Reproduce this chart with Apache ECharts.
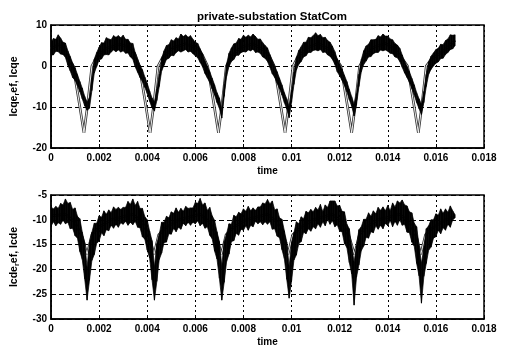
<!DOCTYPE html>
<html>
<head>
<meta charset="utf-8">
<script src="https://cdn.jsdelivr.net/npm/echarts@6/dist/echarts.min.js"></script>
<style>
  html, body { margin: 0; padding: 0; background: #fff; }
  #chart { width: 511px; height: 352px; }
</style>
</head>
<body>
<div id="chart"></div>
<script>
// sample step of the measured traces (s), first sample at t = 0
const dt = 0.0001;

// upper plot: envelope of the noisy Icqe trace
const topHi = [
  5.8, 6.7, 6.5, 7.6, 6.8, 5.8, 5.6, 3.7, 2.3, 0.7,
  -0.4, -2.1, -3.8, -5.4, -7.4, -8.8, -7.7, -2.9, 1.7, 3.3,
  4.6, 5.7, 5.6, 6.9, 6.6, 6.4, 7.4, 7.0, 7.4, 6.9,
  7.5, 6.5, 6.5, 5.6, 5.5, 3.3, 1.6, 0.2, -0.9, -2.7,
  -4.2, -6.1, -7.8, -8.8, -5.6, -2.0, 1.9, 3.7, 5.0, 5.2,
  6.4, 6.1, 6.9, 6.6, 7.8, 7.2, 7.6, 7.0, 7.4, 6.5,
  5.8, 5.5, 4.2, 3.0, 1.3, 0.0, -1.4, -3.0, -4.6, -6.5,
  -7.8, -10.4, -4.5, 0.5, 3.1, 4.4, 5.4, 5.6, 6.7, 6.5,
  7.5, 7.0, 7.5, 7.1, 7.8, 7.2, 6.5, 6.6, 5.7, 5.0,
  4.4, 2.8, 1.3, 0.0, -1.4, -3.0, -4.6, -6.5, -8.0, -9.9,
  -6.1, -1.5, 2.1, 3.8, 4.7, 5.8, 5.8, 7.0, 6.9, 7.4,
  8.1, 7.4, 7.7, 6.9, 7.0, 6.2, 5.8, 4.8, 3.5, 1.7,
  0.5, -0.8, -2.3, -3.8, -5.7, -7.5, -9.3, -6.7, -2.0, 1.6,
  3.7, 4.9, 5.3, 6.4, 6.4, 6.5, 7.4, 7.1, 7.8, 7.3,
  7.3, 6.6, 6.4, 5.5, 5.1, 4.3, 2.7, 1.2, -0.1, -1.4,
  -3.0, -4.6, -6.5, -8.0, -9.3, -6.2, -2.1, 1.0, 2.4, 3.2,
  4.0, 4.3, 5.3, 5.2, 6.2, 6.6, 7.6, 7.5, 7.6
];
const topLo = [
  2.7, 2.7, 3.6, 3.5, 2.9, 2.8, 2.1, 0.2, -1.2, -2.8,
  -3.5, -4.8, -6.3, -8.0, -9.7, -10.8, -10.3, -6.0, -1.7, -0.1,
  1.5, 1.7, 2.7, 2.8, 2.7, 3.4, 3.9, 3.5, 3.9, 3.4,
  3.7, 3.1, 3.2, 2.2, 1.7, -0.2, -1.5, -2.8, -3.8, -5.2,
  -6.7, -8.6, -10.2, -11.0, -8.4, -5.0, -1.2, 0.2, 1.6, 1.9,
  2.6, 2.5, 3.3, 3.7, 3.4, 3.7, 4.0, 3.4, 3.6, 3.0,
  2.5, 2.0, 0.9, -0.2, -1.8, -2.9, -4.0, -5.6, -7.1, -8.9,
  -10.3, -12.7, -7.4, -2.5, -0.1, 1.1, 1.6, 2.6, 2.6, 3.3,
  3.5, 3.4, 3.9, 3.7, 4.1, 3.3, 3.4, 3.1, 2.2, 1.9,
  1.1, -0.3, -1.9, -2.8, -4.2, -5.5, -7.1, -8.9, -10.5, -12.6,
  -8.9, -4.5, -1.0, 0.4, 1.1, 2.2, 2.5, 3.3, 3.3, 3.8,
  3.9, 3.7, 4.0, 3.3, 3.4, 2.7, 2.4, 1.6, 0.4, -1.4,
  -2.4, -3.5, -4.8, -6.3, -8.2, -9.8, -12.2, -9.5, -5.0, -1.4,
  0.4, 1.2, 2.2, 2.3, 3.0, 3.3, 3.3, 3.9, 3.7, 3.9,
  3.6, 3.1, 3.0, 2.2, 2.0, 1.1, -0.3, -1.7, -2.8, -4.0,
  -5.5, -7.1, -8.9, -10.4, -11.8, -8.9, -5.0, -2.0, -0.8, 0.0,
  0.7, 1.0, 1.8, 1.9, 2.8, 3.3, 4.0, 4.2, 5.0
];
// upper plot: Icqe_ref, [time, value]
const topRef = [
  [0, 4.2], [0.0003, 5.2], [0.0005, 4.4], [0.0007, 2.2],
  [0.00092, 0], [0.0012, -10], [0.00137, -16.3], [0.00151, -10], [0.0017, 0], [0.0019, 2.2],
  [0.0023, 4.3], [0.0029, 5.3], [0.0033, 4.4], [0.0035, 2.8],
  [0.00367, 0], [0.00395, -10], [0.00412, -16.3], [0.00426, -10], [0.00445, 0], [0.00465, 2.2],
  [0.0051, 4.5], [0.0056, 5.4], [0.0061, 4.2], [0.0063, 2.6],
  [0.00651, 0], [0.00679, -10], [0.00696, -16.3], [0.0071, -10], [0.00729, 0], [0.0075, 2.4],
  [0.0079, 4.6], [0.0084, 5.4], [0.0089, 3.6], [0.0091, 2.2],
  [0.00928, 0], [0.00956, -10], [0.00973, -16.3], [0.00987, -10], [0.01006, 0], [0.01026, 2.2],
  [0.0107, 4.6], [0.0111, 5.5], [0.0116, 4.0], [0.0118, 2.2],
  [0.01205, 0], [0.01233, -10], [0.0125, -16.3], [0.01264, -10], [0.01283, 0], [0.01303, 2.2],
  [0.0134, 4.5], [0.0139, 5.5], [0.0143, 4.0], [0.0146, 1.8],
  [0.01482, 0], [0.0151, -10], [0.01527, -16.3], [0.01541, -10], [0.0156, 0], [0.0158, 1.6],
  [0.0163, 3.6], [0.0168, 6.3]
];

// lower plot: envelope of the noisy Icde trace
const botHi = [
  -7.4, -7.8, -7.3, -7.7, -6.7, -7.0, -5.8, -6.7, -6.5, -7.9,
  -7.6, -9.3, -9.8, -12.5, -14.6, -19.6, -14.5, -12.5, -10.7, -10.7,
  -9.2, -9.5, -8.2, -8.9, -8.0, -8.6, -7.4, -7.9, -7.5, -7.9,
  -7.5, -7.5, -6.3, -6.9, -5.8, -7.1, -6.3, -7.7, -7.7, -9.4,
  -10.0, -12.3, -14.2, -19.5, -14.8, -12.9, -10.5, -10.5, -9.3, -9.6,
  -8.4, -8.7, -7.6, -8.5, -7.7, -8.3, -7.3, -7.7, -7.6, -7.6,
  -6.5, -6.7, -5.7, -7.0, -6.6, -8.1, -7.5, -9.2, -10.1, -12.4,
  -14.4, -19.3, -14.4, -12.8, -10.8, -10.9, -9.1, -9.4, -8.5, -8.8,
  -7.8, -8.3, -7.3, -8.2, -7.6, -8.1, -7.4, -7.4, -6.6, -6.8,
  -5.9, -6.8, -6.2, -8.0, -7.8, -9.6, -9.9, -12.2, -14.5, -19.4,
  -14.6, -12.6, -10.4, -10.8, -9.4, -9.8, -8.3, -8.6, -7.9, -8.4,
  -7.5, -8.0, -6.9, -8.4, -7.0, -7.5, -6.2, -6.2, -6.2, -7.2,
  -7.1, -8.3, -8.4, -10.9, -11.8, -15.4, -18.5, -15.2, -12.0, -11.4,
  -9.9, -9.9, -8.6, -9.3, -8.2, -8.8, -7.5, -8.1, -7.4, -8.2,
  -7.1, -8.2, -6.6, -7.4, -6.2, -6.6, -6.0, -7.0, -7.2, -8.4,
  -8.6, -10.7, -11.4, -15.3, -18.8, -15.6, -11.8, -11.2, -10.0, -10.0,
  -8.8, -9.1, -7.8, -8.7, -7.8, -8.5, -7.2, -8.2, -9.0
];
const botLo = [
  -11.3, -10.4, -11.2, -10.6, -10.9, -10.1, -10.8, -10.5, -11.8, -11.7,
  -13.2, -13.7, -16.4, -18.0, -21.9, -26.2, -22.2, -18.2, -17.0, -14.7,
  -14.3, -12.6, -13.2, -12.0, -12.2, -11.1, -11.7, -10.9, -11.5, -10.6,
  -10.9, -10.3, -11.1, -10.5, -11.0, -10.3, -11.5, -11.6, -13.4, -13.9,
  -16.1, -17.7, -22.1, -26.2, -22.4, -18.0, -16.7, -14.6, -14.5, -12.8,
  -12.9, -11.7, -12.4, -11.5, -11.9, -10.7, -11.2, -10.5, -11.1, -10.5,
  -10.8, -10.2, -11.2, -10.7, -11.7, -11.4, -13.1, -13.8, -16.3, -17.9,
  -21.8, -26.2, -22.6, -18.4, -16.9, -14.4, -14.2, -12.7, -13.1, -11.9,
  -12.1, -11.2, -12.1, -11.1, -11.4, -10.3, -10.8, -10.4, -11.0, -10.4,
  -10.9, -10.4, -11.9, -11.8, -13.3, -13.6, -16.0, -17.8, -22.0, -25.8,
  -22.3, -18.1, -17.1, -14.8, -14.4, -12.5, -12.8, -11.8, -12.3, -11.4,
  -11.8, -10.8, -11.5, -10.4, -11.2, -9.9, -10.9, -10.2, -11.4, -11.0,
  -12.3, -12.4, -14.8, -15.6, -18.6, -20.9, -27.2, -21.6, -19.1, -16.2,
  -15.3, -13.5, -13.7, -12.4, -12.6, -11.2, -11.9, -11.1, -11.8, -10.7,
  -11.2, -10.1, -11.4, -10.3, -11.1, -10.0, -11.1, -10.9, -12.5, -12.6,
  -14.5, -15.3, -18.8, -21.3, -26.8, -21.4, -18.8, -16.1, -15.5, -13.7,
  -13.4, -12.1, -12.8, -11.6, -12.1, -10.9, -11.5, -10.0, -9.6
];
// lower plot: Icde_ref, [time, value]
const botRef = [
  [0, -9.2], [0.0006, -8.9], [0.001, -10.5], [0.0013, -13.5], [0.0015, -17], [0.0017, -13],
  [0.002, -11.5], [0.0025, -10], [0.0034, -8.9], [0.0038, -10.5], [0.0041, -13.5], [0.00428, -17],
  [0.00448, -13], [0.0048, -11.5], [0.0053, -10], [0.0062, -8.9], [0.0066, -10.5], [0.0069, -13.5],
  [0.00708, -17], [0.00728, -13], [0.0076, -11.5], [0.0081, -10], [0.009, -8.9], [0.0094, -10.5],
  [0.0097, -13.5], [0.00985, -17], [0.01005, -13], [0.0104, -11.5], [0.0109, -10], [0.0117, -8.9],
  [0.0121, -10.5], [0.0124, -13.5], [0.01262, -17], [0.01282, -13], [0.0131, -11.5], [0.0136, -10],
  [0.0145, -8.9], [0.0149, -10.5], [0.0152, -13.5], [0.01537, -17], [0.01557, -13], [0.0159, -11.5],
  [0.0164, -10], [0.0167, -9.5]
];

const font = 'Liberation Sans';
const txt = {fontFamily: font, fontWeight: 'bold', color: '#000'};

function makeX(gi) {
  return {
    type: 'value', gridIndex: gi, min: 0, max: 0.018, interval: 0.002,
    name: 'time', nameLocation: 'middle', nameGap: 18,
    nameTextStyle: Object.assign({fontSize: 10}, txt),
    axisLine: {show: true, onZero: false, lineStyle: {color: '#000', width: 1.5}},
    axisTick: {show: true, inside: true, length: 4, lineStyle: {color: '#000'}},
    axisLabel: Object.assign({
      margin: 5, fontSize: 10, showMinLabel: true, showMaxLabel: true,
      formatter: v => v === 0 ? '0' : String(+v.toFixed(3))
    }, txt),
    splitLine: {show: true, lineStyle: {color: '#000', type: [2, 3], width: 1}}
  };
}

function makeY(gi, min, max, step, pre) {
  return {
    type: 'value', gridIndex: gi, min, max, interval: step,
    name: '{a|' + pre + '}{s|r}{a|ef, ' + pre + '}',
    nameLocation: 'middle', nameGap: 30, nameRotate: 90,
    nameTextStyle: Object.assign({
      fontSize: 10.5,
      rich: {
        a: Object.assign({fontSize: 10.5, lineHeight: 13, verticalAlign: 'middle'}, txt),
        s: Object.assign({fontSize: 7.5, lineHeight: 13, verticalAlign: 'bottom', padding: [5, 0, 0, 0]}, txt)
      }
    }, txt),
    axisLine: {show: true, lineStyle: {color: '#000', width: 1.5}},
    axisTick: {show: true, inside: true, length: 4, lineStyle: {color: '#000'}},
    axisLabel: Object.assign({margin: 4, fontSize: 10}, txt),
    splitLine: {show: true, lineStyle: {color: '#000', type: [5, 3], width: 1}}
  };
}

// noisy trace: one [t, lo, hi] row per sample, filled as a band
function bandRows(hi, lo) {
  return hi.map((v, i) => [+(i * dt).toFixed(4), lo[i], v]);
}

function bandSeries(gi, hi, lo) {
  const rows = bandRows(hi, lo);
  return {
    type: 'custom', xAxisIndex: gi, yAxisIndex: gi, silent: true, clip: true, z: 5,
    data: rows,
    encode: {x: 0, y: [1, 2]},
    renderItem: function(params, api) {
      const i = params.dataIndex;
      if (i >= rows.length - 1) return null;
      const a = rows[i], b = rows[i + 1];
      const pts = [
        api.coord([a[0], a[2]]), api.coord([b[0], b[2]]),
        api.coord([b[0], b[1]]), api.coord([a[0], a[1]])
      ];
      return {
        type: 'polygon', shape: {points: pts},
        style: {fill: '#000', stroke: '#000', lineWidth: 0.7}
      };
    }
  };
}

function traces(gi, ref, hi, lo) {
  const common = {type: 'line', xAxisIndex: gi, yAxisIndex: gi, showSymbol: false, symbol: 'none', silent: true};
  return [
    Object.assign({}, common, {z: 2, data: ref, lineStyle: {color: '#333', width: 2.6}}),
    Object.assign({}, common, {z: 3, data: ref, lineStyle: {color: '#fff', width: 0.9}}),
    bandSeries(gi, hi, lo)
  ];
}

const chart = echarts.init(document.getElementById('chart'));
chart.setOption({
  animation: false,
  backgroundColor: '#fff',
  title: {
    text: 'private-substation StatCom', left: 267, top: 6, textAlign: 'center',
    textStyle: Object.assign({fontSize: 11.5}, txt)
  },
  grid: [
    {left: 51, right: 27, top: 25, height: 123, show: true, borderColor: '#000', borderWidth: 1.5},
    {left: 51, right: 27, top: 195, height: 124, show: true, borderColor: '#000', borderWidth: 1.5}
  ],
  xAxis: [makeX(0), makeX(1)],
  yAxis: [makeY(0, -20, 10, 10, 'Icqe'), makeY(1, -30, -5, 5, 'Icde')],
  series: traces(0, topRef, topHi, topLo).concat(traces(1, botRef, botHi, botLo))
});

window.addEventListener('resize', function() {
  chart.resize();
});
</script>
</body>
</html>
